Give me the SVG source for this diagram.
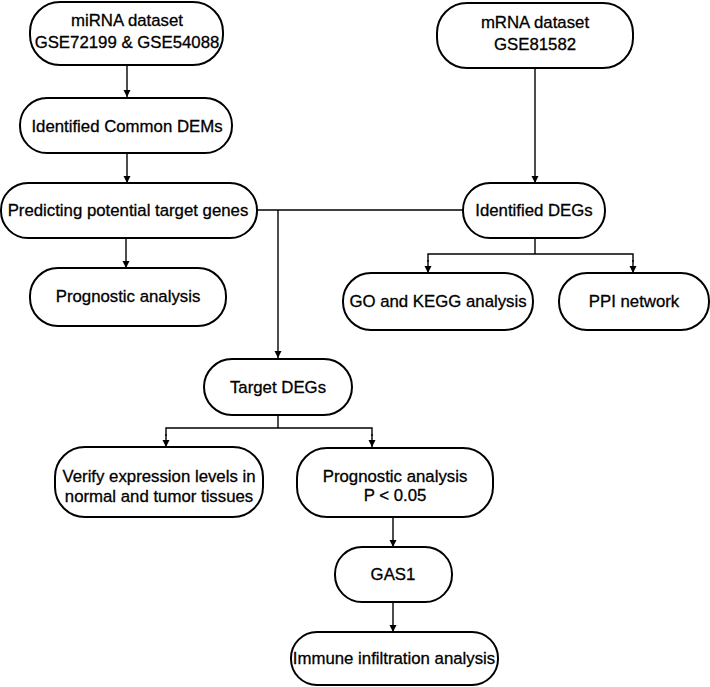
<svg xmlns="http://www.w3.org/2000/svg" width="710" height="687" viewBox="0 0 710 687">
<style>
.n{fill:#fff;stroke:#000;stroke-width:2}
.t{font-family:"Liberation Sans",Arial,sans-serif;font-size:16.8px;fill:#000;stroke:#000;stroke-width:0.3;text-anchor:middle}
.c{fill:none;stroke:#000;stroke-width:1.4}
</style>
<defs>
<marker id="a" viewBox="0 0 10 10" refX="10" refY="5" markerWidth="7" markerHeight="10" orient="auto" markerUnits="userSpaceOnUse">
<path d="M0,0 L10,5 L0,10 z" fill="#000"/>
</marker>
</defs>
<rect width="710" height="687" fill="#fff"/>
<g id="connectors">
<path class="c" d="M127,65 V97" marker-end="url(#a)"/>
<path class="c" d="M127,153 V183" marker-end="url(#a)"/>
<path class="c" d="M535,68 V183" marker-end="url(#a)"/>
<path class="c" d="M257,210 H463"/>
<path class="c" d="M278,210 V358" marker-end="url(#a)"/>
<path class="c" d="M126,238 V268" marker-end="url(#a)"/>
<path class="c" d="M535,238 V254"/>
<path class="c" d="M428,262 V254 H633 V262"/>
<path class="c" d="M428,260 V273" marker-end="url(#a)"/>
<path class="c" d="M633,260 V273" marker-end="url(#a)"/>
<path class="c" d="M278,415 V428"/>
<path class="c" d="M166,436 V428 H372 V436"/>
<path class="c" d="M166,434 V447" marker-end="url(#a)"/>
<path class="c" d="M372,434 V447" marker-end="url(#a)"/>
<path class="c" d="M393,517 V547" marker-end="url(#a)"/>
<path class="c" d="M393,602 V632" marker-end="url(#a)"/>
</g>
<g id="mirna">
<rect class="n" x="30" y="2" width="193" height="63" rx="30"/>
<text class="t" x="127" y="26">miRNA dataset</text>
<text class="t" x="127" y="48">GSE72199 &amp; GSE54088</text>
</g>
<g id="mrna">
<rect class="n" x="437" y="3" width="196" height="65" rx="30"/>
<text class="t" x="535" y="28">mRNA dataset</text>
<text class="t" x="535" y="50">GSE81582</text>
</g>
<g id="dems">
<rect class="n" x="20" y="98" width="212" height="55" rx="27"/>
<text class="t" x="127" y="132">Identified Common DEMs</text>
</g>
<g id="predict">
<rect class="n" x="1" y="183" width="256" height="55" rx="27"/>
<text class="t" x="128" y="216">Predicting potential target genes</text>
</g>
<g id="degs">
<rect class="n" x="463" y="183" width="142" height="55" rx="27"/>
<text class="t" x="534" y="216">Identified DEGs</text>
</g>
<g id="prog1">
<rect class="n" x="30" y="268" width="196" height="58" rx="28"/>
<text class="t" x="128" y="302">Prognostic analysis</text>
</g>
<g id="gokegg">
<rect class="n" x="343" y="273" width="190" height="57" rx="28"/>
<text class="t" x="438" y="307">GO and KEGG analysis</text>
</g>
<g id="ppi">
<rect class="n" x="559" y="273" width="150" height="57" rx="28"/>
<text class="t" x="634" y="307">PPI network</text>
</g>
<g id="target">
<rect class="n" x="204" y="359" width="148" height="56" rx="28"/>
<text class="t" x="278" y="393">Target DEGs</text>
</g>
<g id="verify">
<rect class="n" x="55" y="447" width="208" height="70" rx="30"/>
<text class="t" x="159" y="482">Verify expression levels in</text>
<text class="t" x="159" y="502">normal and tumor tissues</text>
</g>
<g id="prog2">
<rect class="n" x="297" y="448" width="196" height="69" rx="30"/>
<text class="t" x="395" y="482">Prognostic analysis</text>
<text class="t" x="395" y="501">P &lt; 0.05</text>
</g>
<g id="gas1">
<rect class="n" x="335" y="547" width="117" height="55" rx="27"/>
<text class="t" x="393" y="580">GAS1</text>
</g>
<g id="immune">
<rect class="n" x="291" y="632" width="207" height="53" rx="26"/>
<text class="t" x="394" y="664">Immune infiltration analysis</text>
</g>
</svg>
